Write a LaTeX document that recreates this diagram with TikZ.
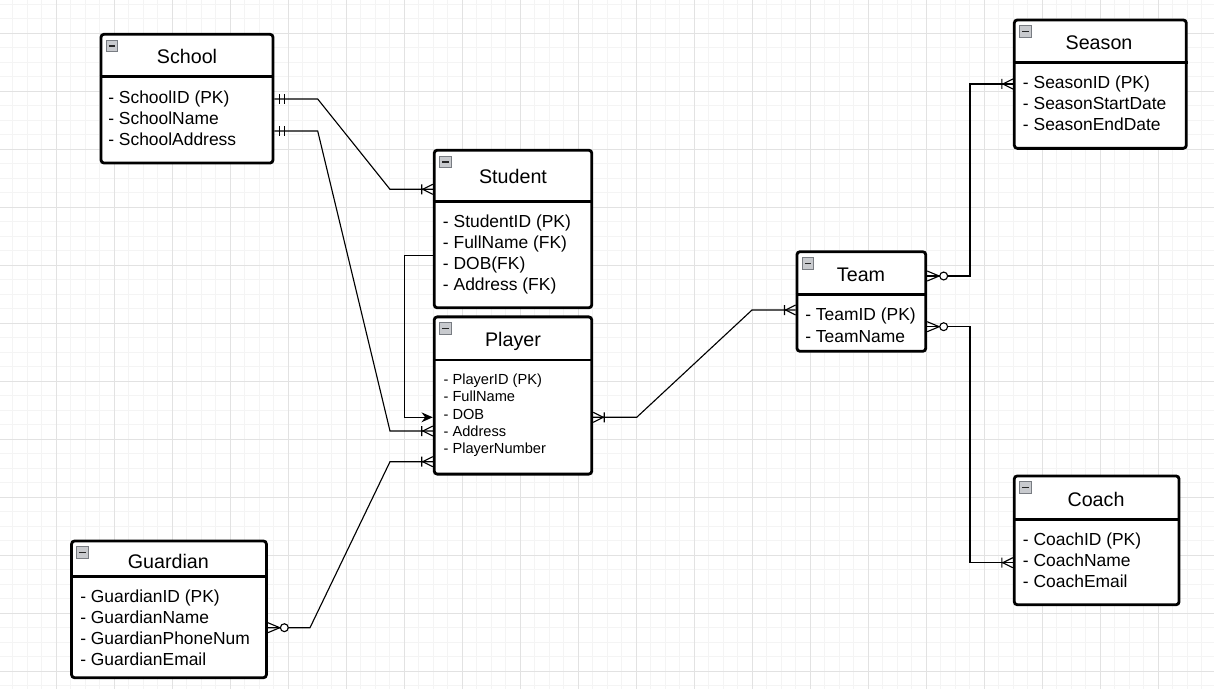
\documentclass[tikz,border=0pt]{standalone}
\usepackage{fontspec}
\setmainfont{Liberation Sans}
\usepackage{tikz}
\usetikzlibrary{positioning,arrows.meta,calc}
\definecolor{gridfaint}{RGB}{244,244,244}
\definecolor{gridrule}{RGB}{226,226,226}
\definecolor{iconfill}{RGB}{200,202,206}
\definecolor{iconrule}{RGB}{120,124,130}
\tikzset{
  entity/.style={rectangle,rounded corners=2.2pt,draw=black,line width=2pt,fill=white,inner sep=0pt},
  enttitle/.style={inner sep=0pt,font=\fontsize{14}{16}\selectfont,text height=10pt,text depth=0pt},
  attr/.style={anchor=west,inner sep=0pt,font=\fontsize{12.4}{14}\selectfont,text height=8.9pt,text depth=0pt},
  smallattr/.style={attr,font=\fontsize{10.4}{12}\selectfont,text height=7.5pt},
  divider/.style={line width=1.8pt},
  minbox/.style={rectangle,draw=iconrule,fill=iconfill,line width=0.6pt,minimum size=8.2pt,inner sep=0pt,
    path picture={\draw[line width=1.1pt,black!85] ([xshift=-2.3pt]path picture bounding box.center) -- ([xshift=2.3pt]path picture bounding box.center);}},
  rel/.style={line width=0.8pt,black},
  onemany/.pic={\draw[line width=0.8pt] (0,-5) -- (-10,0) -- (0,5) (-11,-5) -- (-11,5);},
  zeromany/.pic={\draw[line width=0.8pt] (0,-5) -- (-12,0) -- (0,5); \draw[line width=0.8pt,fill=white] (-16.5,0) circle (2.8pt);},
  onlyone/.pic={\draw[line width=0.8pt] (-5,-5) -- (-5,5) (-10,-5) -- (-10,5);}
}
\begin{document}
\begin{tikzpicture}[x=0.025cm,y=-0.025cm]
  \useasboundingbox (0,0) rectangle (1214,689);
  \fill[white] (0,0) rectangle (1214,689);
  % grid
  \foreach \x in {12.5,27,...,1214} \draw[gridfaint,line width=0.7pt] (\x,0) -- (\x,689);
  \foreach \y in {4.3,18.8,...,689} \draw[gridfaint,line width=0.7pt] (0,\y) -- (1214,\y);
  \foreach \x in {56,114,...,1214} \draw[gridrule,line width=0.7pt] (\x,0) -- (\x,689);
  \foreach \y in {33.3,91.3,...,689} \draw[gridrule,line width=0.7pt] (0,\y) -- (1214,\y);

  % entities
  \node[entity,minimum width=4.3cm,minimum height=3.22cm] (school) at (187,98.65) {};
  \node[minbox] (school-min) at ([shift={(12.5,13)}]school.north west) {};
  \node[enttitle] (school-title) at (187,56) {School};
  \draw[divider] (school.west |- 0,76.7) -- (school.east |- 0,76.7);
  \foreach \txt [count=\i] in {SchoolID (PK),SchoolName,SchoolAddress}
    \node[attr] (school-\i) at (108,{97.3+21*\i-21}) {- \txt};

  \node[entity,minimum width=3.94cm,minimum height=3.94cm] (student) at (513,229) {};
  \node[minbox] (student-min) at ([shift={(12.5,13)}]student.north west) {};
  \node[enttitle] (student-title) at (513,176.7) {Student};
  \draw[divider] (student.west |- 0,201.7) -- (student.east |- 0,201.7);
  \foreach \txt [count=\i] in {StudentID (PK),FullName (FK),DOB(FK),Address (FK)}
    \node[attr] (student-\i) at (442.7,{221.7+21*\i-21}) {- \txt};

  \node[entity,minimum width=3.94cm,minimum height=3.93cm] (player) at (513,395.5) {};
  \node[minbox] (player-min) at ([shift={(12.5,13)}]player.north west) {};
  \node[enttitle] (player-title) at (513,339) {Player};
  \draw[divider] (player.west |- 0,360) -- (player.east |- 0,360);
  \foreach \txt [count=\i] in {PlayerID (PK),FullName,DOB,Address,PlayerNumber}
    \node[smallattr] (player-\i) at (443.3,{379+17.4*\i-17.4}) {- \txt};

  \node[entity,minimum width=3.22cm,minimum height=2.49cm] (team) at (861.35,301.5) {};
  \node[minbox] (team-min) at ([shift={(12.5,13)}]team.north west) {};
  \node[enttitle] (team-title) at (861,274.3) {Team};
  \draw[divider] (team.west |- 0,294.3) -- (team.east |- 0,294.3);
  \foreach \txt [count=\i] in {TeamID (PK),TeamName}
    \node[attr] (team-\i) at (805,{314.3+21.7*\i-21.7}) {- \txt};

  \node[entity,minimum width=4.3cm,minimum height=3.21cm] (season) at (1100.3,84.15) {};
  \node[minbox] (season-min) at ([shift={(12.5,13)}]season.north west) {};
  \node[enttitle] (season-title) at (1099,42.3) {Season};
  \draw[divider] (season.west |- 0,62.3) -- (season.east |- 0,62.3);
  \foreach \txt [count=\i] in {SeasonID (PK),SeasonStartDate,SeasonEndDate}
    \node[attr] (season-\i) at (1022.7,{82.3+21*\i-21}) {- \txt};

  \node[entity,minimum width=4.12cm,minimum height=3.22cm] (coach) at (1096.65,540.35) {};
  \node[minbox] (coach-min) at ([shift={(12.5,13)}]coach.north west) {};
  \node[enttitle] (coach-title) at (1096,499) {Coach};
  \draw[divider] (coach.west |- 0,519.3) -- (coach.east |- 0,519.3);
  \foreach \txt [count=\i] in {CoachID (PK),CoachName,CoachEmail}
    \node[attr] (coach-\i) at (1022.7,{539.3+21.2*\i-21.2}) {- \txt};

  \node[entity,minimum width=4.87cm,minimum height=3.42cm] (guardian) at (169,609.35) {};
  \node[minbox] (guardian-min) at ([shift={(12.5,13)}]guardian.north west) {};
  \node[enttitle] (guardian-title) at (168.3,561) {Guardian};
  \draw[divider] (guardian.west |- 0,576.7) -- (guardian.east |- 0,576.7);
  \foreach \txt [count=\i] in {GuardianID (PK),GuardianName,GuardianPhoneNum,GuardianEmail}
    \node[attr] (guardian-\i) at (80,{596.7+21*\i-21}) {- \txt};

  % relationships
  \coordinate (sch-a) at (school.east |- 0,99);
  \coordinate (sch-b) at (school.east |- 0,131);
  \coordinate (stu-a) at (student.west |- 0,189.3);
  \coordinate (stu-b) at (student.west |- 0,255.3);
  \coordinate (ply-a) at (player.west |- 0,417.3);
  \coordinate (ply-b) at (player.west |- 0,431);
  \coordinate (ply-c) at (player.west |- 0,461.7);
  \coordinate (ply-d) at (player.east |- 0,417.3);
  \coordinate (grd-a) at (guardian.east |- 0,627.7);
  \coordinate (tem-a) at (team.west |- 0,310);
  \coordinate (tem-b) at (team.east |- 0,276);
  \coordinate (tem-c) at (team.east |- 0,326.7);
  \coordinate (ssn-a) at (season.west |- 0,84);
  \coordinate (cch-a) at (coach.west |- 0,562.7);

  \draw[rel] (sch-a) -- (317.7,99) -- (390,189.3) -- (stu-a);
  \draw[rel] (sch-b) -- (317.7,131) -- (390,431) -- (ply-b);
  \draw[rel,-{Stealth[length=8pt,width=7pt]}] (stu-b) -| (404.5,417.3) -- (ply-a);
  \draw[rel] (grd-a) -- (310,627.7) -- (390,461.7) -- (ply-c);
  \draw[rel] (ply-d) -- (636.7,417.3) -- (752,310) -- (tem-a);
  \draw[rel] (tem-b) -| (970,84) -- (ssn-a);
  \draw[rel] (tem-c) -| (970,562.7) -- (cch-a);

  \pic[rotate=180] at (sch-a) {onlyone};
  \pic[rotate=180] at (sch-b) {onlyone};
  \pic at (stu-a) {onemany};
  \pic at (ply-b) {onemany};
  \pic at (ply-c) {onemany};
  \pic[rotate=180] at (ply-d) {onemany};
  \pic[rotate=180] at (grd-a) {zeromany};
  \pic at (tem-a) {onemany};
  \pic[rotate=180] at (tem-b) {zeromany};
  \pic[rotate=180] at (tem-c) {zeromany};
  \pic at (ssn-a) {onemany};
  \pic at (cch-a) {onemany};
\end{tikzpicture}
\end{document}
